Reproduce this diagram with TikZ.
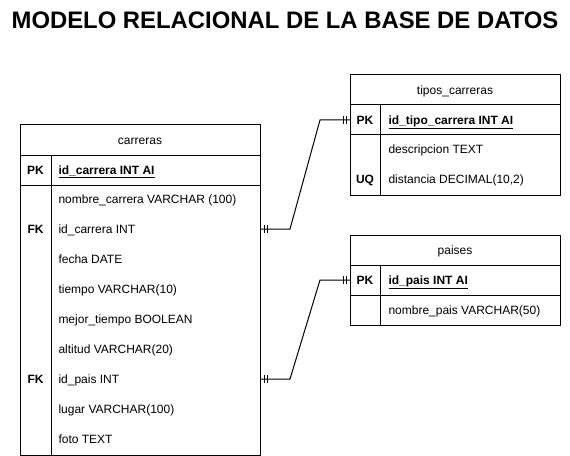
\documentclass[tikz,border=0pt]{standalone}
\usepackage{fontspec}
\setmainfont{Liberation Sans}
\usetikzlibrary{calc,decorations.markings}
\def\tick{\draw[line width=0.75pt] (0,-3pt) -- (0,3pt);}
\tikzset{
  txt/.style={inner sep=0pt,text height=6.5pt,text depth=0pt,font=\fontsize{9}{11}\selectfont},
  fld/.style={txt,anchor=west},
  key/.style={txt,font=\fontsize{9}{11}\selectfont\bfseries},
  one/.style={postaction={decorate},decoration={markings,
      mark=at position 3pt with {\tick},
      mark=at position 5.25pt with {\tick},
      mark=at position -3pt with {\tick},
      mark=at position -5.25pt with {\tick}}},
}
\begin{document}
\begin{tikzpicture}[x=0.75pt,y=-0.75pt,line width=0.75pt]
  \useasboundingbox (0,0) rectangle (570,456);
  \node[inner sep=0pt,font=\fontsize{17.9}{21}\selectfont\bfseries] (title) at (285,20)
    {MODELO RELACIONAL DE LA BASE DE DATOS};

  % carreras
  \draw (20,125) rectangle (260,455);
  \draw (20,155) -- (260,155);
  \draw (20,185) -- (260,185);
  \draw (51,155) -- (51,455);
  \node[txt] (carreras) at (140,140) {carreras};
  \node[key] (c-pk) at (35.5,170) {PK};
  \node[fld,font=\fontsize{9}{11}\selectfont\bfseries] (c-id) at (58,170) {\underline{id\_carrera INT AI}};
  \foreach \t [count=\i] in {nombre\_carrera VARCHAR (100), id\_carrera INT, fecha DATE,
      tiempo VARCHAR(10), mejor\_tiempo BOOLEAN, altitud VARCHAR(20), id\_pais INT,
      lugar VARCHAR(100), foto TEXT}
    \node[fld] (c-\i) at (58,169+30*\i) {\t};
  \node[key] (c-fk1) at (35.5,229) {FK};
  \node[key] (c-fk2) at (35.5,379) {FK};

  % tipos_carreras
  \draw (350,75) rectangle (560,195);
  \draw (350,105) -- (560,105);
  \draw (350,135) -- (560,135);
  \draw (380,105) -- (380,195);
  \node[txt] (tipos) at (455,90) {tipos\_carreras};
  \node[key] (t-pk) at (365,120) {PK};
  \node[fld,font=\fontsize{9}{11}\selectfont\bfseries] (t-id) at (388,120) {\underline{id\_tipo\_carrera INT AI}};
  \node[fld] (t-1) at (388,149) {descripcion TEXT};
  \node[fld] (t-2) at (388,179) {distancia DECIMAL(10,2)};
  \node[key] (t-uq) at (365,179) {UQ};

  % paises
  \draw (350,235) rectangle (560,325);
  \draw (350,265) -- (560,265);
  \draw (350,295) -- (560,295);
  \draw (380,265) -- (380,325);
  \node[txt] (paises) at (455,250) {paises};
  \node[key] (p-pk) at (365,280) {PK};
  \node[fld,font=\fontsize{9}{11}\selectfont\bfseries] (p-id) at (388,280) {\underline{id\_pais INT AI}};
  \node[fld] (p-1) at (388,310) {nombre\_pais VARCHAR(50)};

  % relaciones
  \coordinate (c-tipo) at (260,229);
  \coordinate (c-pais) at (260,379);
  \coordinate (t-in) at (350,120);
  \coordinate (p-in) at (350,280);
  \draw[one] (c-tipo) -- ++(30,0) -- ($(t-in)+(-30,0)$) -- (t-in);
  \draw[one] (c-pais) -- ++(30,0) -- ($(p-in)+(-30,0)$) -- (p-in);
\end{tikzpicture}
\end{document}
